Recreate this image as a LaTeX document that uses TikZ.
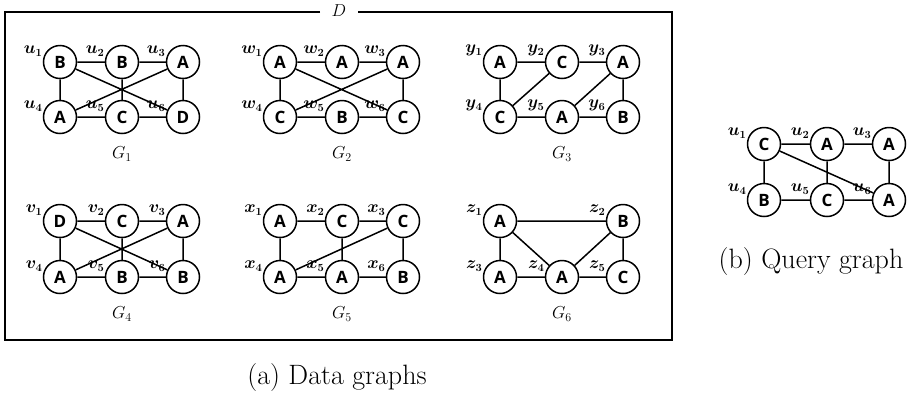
\documentclass[tikz,border=0pt]{standalone}
\usepackage{fontspec}
\newfontfamily\nodefont{Open Sans}
\tikzset{
  v/.style={circle, draw, line width=1.5pt, minimum size=33pt, inner sep=0pt,
    font=\nodefont\bfseries\fontsize{17}{17}\selectfont},
  vl/.style={label={[lbl]162:$#1$}},
  lbl/.style={inner sep=0pt, anchor=south east, label distance=1pt, font=\fontsize{16}{16}\selectfont\boldmath},
  e/.style={line width=1.5pt},
  gname/.style={font=\fontsize{17}{17}\selectfont},
  capt/.style={font=\fontsize{28}{28}\selectfont, anchor=base},
}
\begin{document}
\begin{tikzpicture}[x=1pt, y=-1pt]
\useasboundingbox (0,0) rectangle (912,397);
% frame
\draw[line width=2.5pt] (320,12) -- (5,12) -- (5,340) -- (672,340) -- (672,12) -- (358,12);
\node[font=\fontsize{17}{17}\selectfont] (D) at (339,11) {$D$};

% G1
\node[v, vl={u_1}] (a1) at (60,62) {B};
\node[v, vl={u_2}] (a2) at (122,62) {B};
\node[v, vl={u_3}] (a3) at (183,62) {A};
\node[v, vl={u_4}] (a4) at (60,117) {A};
\node[v, vl={u_5}] (a5) at (122,117) {C};
\node[v, vl={u_6}] (a6) at (183,117) {D};
\node[gname] (ga) at (122,154) {$G_1$};
\draw[e] (a1)--(a2) (a2)--(a3) (a1)--(a4) (a2)--(a5) (a3)--(a6) (a4)--(a5) (a5)--(a6) (a1)--(a6) (a3)--(a4);

% G2
\node[v, vl={w_1}] (b1) at (280,62) {A};
\node[v, vl={w_2}] (b2) at (342,62) {A};
\node[v, vl={w_3}] (b3) at (403,62) {A};
\node[v, vl={w_4}] (b4) at (280,117) {C};
\node[v, vl={w_5}] (b5) at (342,117) {B};
\node[v, vl={w_6}] (b6) at (403,117) {C};
\node[gname] (gb) at (342,154) {$G_2$};
\draw[e] (b1)--(b2) (b2)--(b3) (b1)--(b4) (b3)--(b6) (b4)--(b5) (b5)--(b6) (b1)--(b6) (b3)--(b4);

% G3
\node[v, vl={y_1}] (c1) at (500,62) {A};
\node[v, vl={y_2}] (c2) at (562,62) {C};
\node[v, vl={y_3}] (c3) at (623,62) {A};
\node[v, vl={y_4}] (c4) at (500,117) {C};
\node[v, vl={y_5}] (c5) at (562,117) {A};
\node[v, vl={y_6}] (c6) at (623,117) {B};
\node[gname] (gc) at (562,154) {$G_3$};
\draw[e] (c1)--(c2) (c2)--(c3) (c1)--(c4) (c2)--(c4) (c3)--(c5) (c3)--(c6) (c4)--(c5) (c5)--(c6);

% G4
\node[v, vl={v_1}] (d1) at (60,221) {D};
\node[v, vl={v_2}] (d2) at (122,221) {C};
\node[v, vl={v_3}] (d3) at (183,221) {A};
\node[v, vl={v_4}] (d4) at (60,277) {A};
\node[v, vl={v_5}] (d5) at (122,277) {B};
\node[v, vl={v_6}] (d6) at (183,277) {B};
\node[gname] (gd) at (122,314) {$G_4$};
\draw[e] (d1)--(d2) (d2)--(d3) (d1)--(d4) (d2)--(d5) (d3)--(d6) (d4)--(d5) (d5)--(d6) (d1)--(d6) (d3)--(d4);

% G5
\node[v, vl={x_1}] (f1) at (280,221) {A};
\node[v, vl={x_2}] (f2) at (342,221) {C};
\node[v, vl={x_3}] (f3) at (403,221) {C};
\node[v, vl={x_4}] (f4) at (280,277) {A};
\node[v, vl={x_5}] (f5) at (342,277) {A};
\node[v, vl={x_6}] (f6) at (403,277) {B};
\node[gname] (gf) at (342,314) {$G_5$};
\draw[e] (f1)--(f2) (f2)--(f3) (f1)--(f4) (f2)--(f5) (f3)--(f6) (f4)--(f5) (f5)--(f6) (f3)--(f4);

% G6
\node[v, vl={z_1}] (h1) at (500,221) {A};
\node[v, vl={z_2}] (h2) at (623,221) {B};
\node[v, vl={z_3}] (h3) at (500,277) {A};
\node[v, vl={z_4}] (h4) at (562,277) {A};
\node[v, vl={z_5}] (h5) at (623,277) {C};
\node[gname] (gh) at (562,314) {$G_6$};
\draw[e] (h1)--(h2) (h1)--(h3) (h1)--(h4) (h2)--(h4) (h2)--(h5) (h3)--(h4) (h4)--(h5);

% Query graph
\node[v, vl={u_1}] (q1) at (764,144) {C};
\node[v, vl={u_2}] (q2) at (827,144) {A};
\node[v, vl={u_3}] (q3) at (889,144) {A};
\node[v, vl={u_4}] (q4) at (764,200) {B};
\node[v, vl={u_5}] (q5) at (827,200) {C};
\node[v, vl={u_6}] (q6) at (889,200) {A};
\draw[e] (q1)--(q2) (q2)--(q3) (q1)--(q4) (q2)--(q5) (q3)--(q6) (q4)--(q5) (q5)--(q6) (q1)--(q6);

% captions
\node[capt] (ca) at (337,384) {(a) Data graphs};
\node[capt] (cb) at (811,268) {(b) Query graph};
\end{tikzpicture}
\end{document}
